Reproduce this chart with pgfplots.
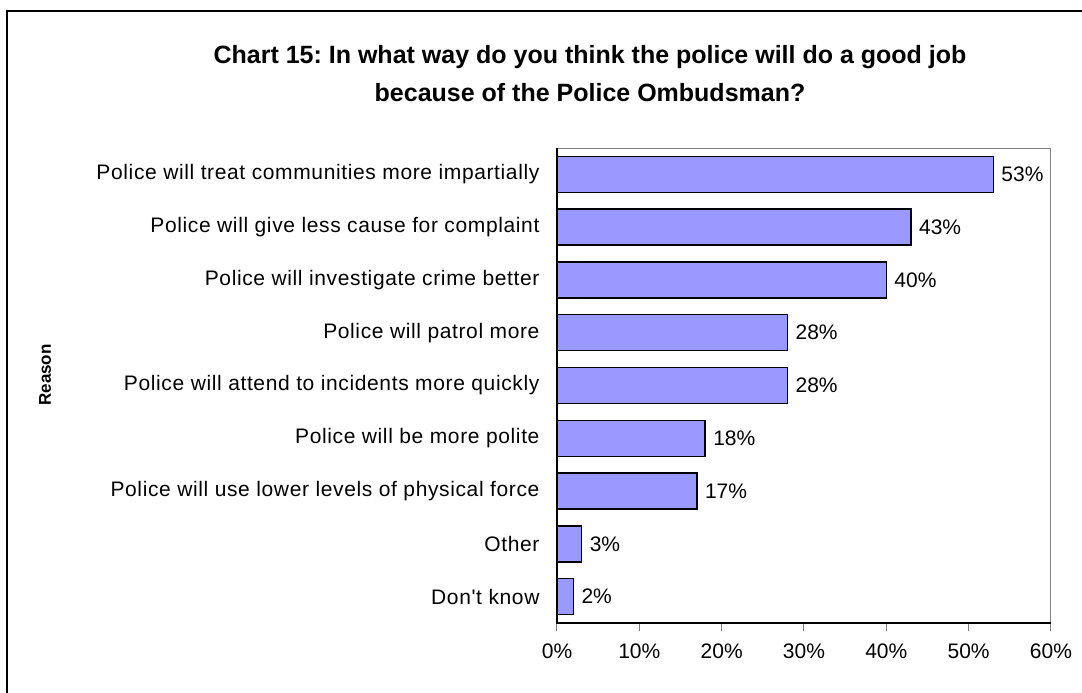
\documentclass[border=0pt]{standalone}
\usepackage{pgfplots}
\pgfplotsset{compat=1.18}
\usepackage{fontspec}
\setmainfont{Liberation Sans}
\newfontfamily\lsfont[LetterSpace=3]{Liberation Sans}
\definecolor{barblue}{HTML}{9999FF}
\frenchspacing
\begin{document}
\begin{tikzpicture}[x=1pt,y=1pt]
\useasboundingbox (0,0) rectangle (1082,693);
\draw[line width=1.5pt] (7,-20) -- (7,682) -- (1100,682);
\node[font=\fontsize{25}{38}\selectfont\bfseries, align=center] at (590,619)
  {Chart 15: In what way do you think the police will do a good job\\because of the Police Ombudsman?};
\node[font=\fontsize{17}{18}\selectfont\bfseries, rotate=90] at (45,318) {Reason};
\begin{axis}[
  at={(557pt,70pt)}, anchor=south west,
  scale only axis, width=494pt, height=475pt,
  xmin=0, xmax=60, ymin=-0.5, ymax=8.5, y dir=reverse,
  xbar, bar width=36pt,
  axis line style={draw=gray, line width=1pt},
  xtick={0,10,...,60},
  xticklabels={0\%,10\%,20\%,30\%,40\%,50\%,60\%},
  xticklabel style={font=\fontsize{21}{24}\selectfont, yshift=-9pt},
  x tick style={draw=gray, line width=1pt},
  xtick pos=bottom, tick align=outside, major tick length=8pt,
  ytick={0,...,8},
  yticklabels={Police will treat communities more impartially,
    Police will give less cause for complaint,
    Police will investigate crime better,
    Police will patrol more,
    Police will attend to incidents more quickly,
    Police will be more polite,
    Police will use lower levels of physical force,
    Other, Don't know},
  yticklabel style={font=\lsfont\fontsize{21}{24}\selectfont, xshift=-6pt},
  y tick style={draw=none},
  extra y ticks={-0.5,0.5,...,8.5},
  extra y tick labels={},
  extra y tick style={tick style={draw=black, line width=1pt}, major tick length=6pt, ytick pos=left},
  nodes near coords={\pgfmathprintnumber[assume math mode=true]{\pgfplotspointmeta}\%},
  point meta=x,
  nodes near coords style={font=\fontsize{21}{24}\selectfont, anchor=west, xshift=4pt},
  clip=false,
]
\addplot[fill=barblue, draw=black, line width=1.5pt] coordinates {
  (53,0) (43,1) (40,2) (28,3) (28,4) (18,5) (17,6) (3,7) (2,8)
};
\draw[black, line width=1.5pt] (axis cs:0,-0.5) -- (axis cs:0,8.5) -- (axis cs:60,8.5);
\end{axis}
\end{tikzpicture}
\end{document}
